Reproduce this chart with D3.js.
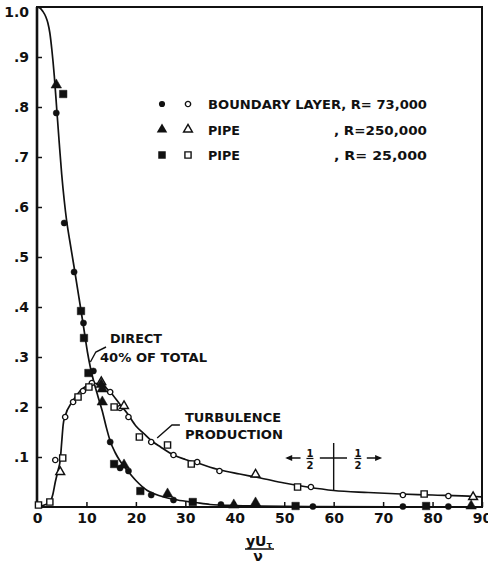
<!DOCTYPE html>
<html>
<head>
<meta charset="utf-8">
<script src="https://cdn.jsdelivr.net/npm/d3@7"></script>
<style>
  html, body { margin: 0; padding: 0; background: #fff; }
  svg { display: block; }
  text { font-family: "DejaVu Sans", sans-serif; font-weight: bold; fill: #111; }
</style>
</head>
<body>
<div id="chart"></div>
<script>
// curves: [yU/nu, fraction]
const directCurve = [[0,1.0],[0.6,0.998],[1.2,0.991],[1.8,0.98],[2.2,0.968],[2.6,0.948],[3.0,0.915],
  [3.5,0.862],[4.0,0.795],[4.5,0.728],[5.0,0.665],[5.5,0.614],[6.0,0.572],[6.6,0.534],[7.5,0.48],
  [8.5,0.418],[9.5,0.355],[10.2,0.31],[10.8,0.279],[11.5,0.25],[12.3,0.222],[13.2,0.192],[14,0.16],
  [14.8,0.132],[15.8,0.109],[16.8,0.092],[18.2,0.074],[20,0.053],[22.3,0.033],[25,0.022],[28.4,0.014],
  [32,0.009],[35,0.005],[40,0.003],[45,0.002],[55,0.001],[90,0]];
const productionCurve = [[0,0],[1.5,0.004],[2.6,0.01],[3.2,0.025],[3.7,0.05],[4.3,0.075],[4.7,0.094],
  [5.0,0.13],[5.3,0.165],[5.7,0.182],[7.1,0.21],[8.7,0.232],[10,0.242],[11.1,0.248],[13,0.245],
  [14.8,0.23],[16.8,0.205],[18.2,0.188],[20,0.162],[21.5,0.148],[23.1,0.133],[25,0.12],[27.6,0.104],
  [30,0.095],[32.4,0.088],[37,0.074],[41,0.066],[45.2,0.058],[50,0.048],[54.7,0.04],[60,0.033],
  [67,0.029],[73.6,0.026],[80,0.024],[88.4,0.021],[90,0.02]];

// measured points
const blFilled = [[3.9,0.788],[5.5,0.568],[7.5,0.47],[9.4,0.368],[11.4,0.272],[14.8,0.13],[16.8,0.078],
  [18.5,0.072],[23.1,0.024],[27.6,0.014],[37.2,0.005],[55.8,0.001],[74,0.001],[83.2,0.001]];
const blOpen = [[3.7,0.094],[5.7,0.18],[7.3,0.21],[9.3,0.232],[11.1,0.248],[14.8,0.23],[16.8,0.198],
  [18.5,0.18],[23.1,0.13],[27.6,0.104],[32.4,0.09],[36.9,0.072],[55.4,0.04],[74,0.024],[83.2,0.022]];
const pipe250Filled = [[3.9,0.844],[13.0,0.245],[13.2,0.236],[13.2,0.21],[17.6,0.084],[26.4,0.026],
  [39.8,0.004],[44.2,0.008],[87.8,0.002]];
const pipe250Open = [[4.7,0.07],[13.0,0.25],[17.6,0.202],[44.2,0.065],[88.2,0.02]];
const pipe25Filled = [[5.3,0.826],[8.9,0.392],[9.5,0.338],[10.4,0.268],[15.6,0.086],[20.9,0.032],
  [31.5,0.01],[52.3,0.002],[78.7,0.002]];
const pipe25Open = [[0.3,0.004],[2.6,0.01],[5.2,0.098],[8.3,0.22],[10.5,0.24],[15.6,0.2],[20.7,0.14],
  [26.4,0.124],[31.2,0.086],[52.7,0.04],[78.3,0.026]];

const xTicks = [0,10,20,30,40,50,60,70,80,90];
const yTicks = [0.1,0.2,0.3,0.4,0.5,0.6,0.7,0.8,0.9,1.0];
const yTickLabels = [".1",".2",".3",".4",".5",".6",".7",".8",".9","1.0"];

const legendRows = [
  {name: "BOUNDARY LAYER", r: "R= 73,000", shape: d3.symbolCircle},
  {name: "PIPE", r: ", R=250,000", shape: d3.symbolTriangle},
  {name: "PIPE", r: ", R= 25,000", shape: d3.symbolSquare}
];

const width = 488, height = 563;
const margin = {top: 7, right: 6, bottom: 56, left: 37};

const x = d3.scaleLinear().domain([0, 90]).range([margin.left, width - margin.right]);
const y = d3.scaleLinear().domain([0, 1]).range([height - margin.bottom, margin.top]);

const svg = d3.select("#chart").append("svg")
  .attr("width", width).attr("height", height);

// axes with inward ticks
svg.append("g")
  .attr("transform", `translate(0,${y(0)})`)
  .call(d3.axisBottom(x).tickValues(xTicks).tickSize(-5).tickPadding(6).tickFormat(d3.format("d")))
  .call(g => g.select(".domain").remove())
  .call(g => g.selectAll(".tick line").attr("stroke", "#111").attr("stroke-width", 1.5))
  .call(g => g.selectAll(".tick text").attr("font-size", 14).attr("font-family", "DejaVu Sans").attr("font-weight", "bold"));

svg.append("g")
  .attr("transform", `translate(${x(0)},0)`)
  .call(d3.axisLeft(y).tickValues(yTicks).tickSize(-5).tickPadding(8).tickFormat((d, i) => yTickLabels[i]))
  .call(g => g.select(".domain").remove())
  .call(g => g.selectAll(".tick line").attr("stroke", "#111").attr("stroke-width", 1.5))
  .call(g => g.selectAll(".tick text").attr("font-size", 14).attr("font-family", "DejaVu Sans").attr("font-weight", "bold"))
  .call(g => g.selectAll(".tick").filter(d => d === 1).select("text").attr("dy", "0.7em"));

// frame
svg.append("rect")
  .attr("x", x(0)).attr("y", y(1))
  .attr("width", x(90) - x(0)).attr("height", y(0) - y(1))
  .attr("fill", "none").attr("stroke", "#111").attr("stroke-width", 2);
svg.append("line")
  .attr("x1", x(0)).attr("x2", x(0)).attr("y1", y(1)).attr("y2", y(0))
  .attr("stroke", "#111").attr("stroke-width", 2.6);

// curves
const line = d3.line().x(d => x(d[0])).y(d => y(d[1])).curve(d3.curveMonotoneX);
[directCurve, productionCurve].forEach(c => {
  svg.append("path").datum(c)
    .attr("fill", "none").attr("stroke", "#111").attr("stroke-width", 1.7)
    .attr("stroke-linejoin", "round").attr("d", line);
});

// markers
const sizes = {circleF: 30, circleO: 22, triF: 48, triO: 34, sqF: 56, sqO: 38};
function drawPoints(data, shape, size, filled) {
  svg.append("g").selectAll("path").data(data).join("path")
    .attr("transform", d => `translate(${x(d[0])},${y(d[1])})`)
    .attr("d", d3.symbol().type(shape).size(size))
    .attr("fill", filled ? "#111" : "#fff")
    .attr("stroke", "#111").attr("stroke-width", filled ? 0.5 : 1.4);
}
drawPoints(blOpen, d3.symbolCircle, sizes.circleO, false);
drawPoints(pipe250Open, d3.symbolTriangle, sizes.triO, false);
drawPoints(pipe25Open, d3.symbolSquare, sizes.sqO, false);
drawPoints(blFilled, d3.symbolCircle, sizes.circleF, true);
drawPoints(pipe250Filled, d3.symbolTriangle, sizes.triF, true);
drawPoints(pipe25Filled, d3.symbolSquare, sizes.sqF, true);

// legend
legendRows.forEach((row, i) => {
  const ly = 104 + i * 25.5;
  const filledSize = row.shape === d3.symbolCircle ? sizes.circleF : row.shape === d3.symbolTriangle ? sizes.triF : sizes.sqF;
  const openSize = row.shape === d3.symbolCircle ? sizes.circleO : row.shape === d3.symbolTriangle ? sizes.triO : sizes.sqO;
  svg.append("path").attr("transform", `translate(162,${ly})`)
    .attr("d", d3.symbol().type(row.shape).size(filledSize)).attr("fill", "#111");
  svg.append("path").attr("transform", `translate(188,${ly})`)
    .attr("d", d3.symbol().type(row.shape).size(openSize))
    .attr("fill", "#fff").attr("stroke", "#111").attr("stroke-width", 1.4);
  if (i === 0) {
    svg.append("text").attr("x", 208).attr("y", ly + 5).attr("font-size", 13)
      .attr("textLength", 219).attr("lengthAdjust", "spacingAndGlyphs")
      .text("BOUNDARY  LAYER, R= 73,000");
  } else {
    svg.append("text").attr("x", 208).attr("y", ly + 5).attr("font-size", 13)
      .attr("textLength", 32).attr("lengthAdjust", "spacingAndGlyphs").text(row.name);
    svg.append("text").attr("x", 334).attr("y", ly + 5).attr("font-size", 13)
      .attr("textLength", 93).attr("lengthAdjust", "spacingAndGlyphs").text(row.r);
  }
});

// curve labels
function label(tx, ty, str, len) {
  svg.append("text").attr("x", tx).attr("y", ty).attr("font-size", 13)
    .attr("textLength", len).attr("lengthAdjust", "spacingAndGlyphs").text(str);
}
label(110, 343, "DIRECT", 52);
label(100, 362, "40% OF TOTAL", 107);
label(185, 422, "TURBULENCE", 96);
label(185, 439, "PRODUCTION", 98);

const leader = d3.line().x(d => x(d[0])).y(d => y(d[1]));
const directLeader = [[13.96,0.32],[11.9,0.31],[10.8,0.29]];
const prodLeader = [[28.9,0.164],[27.3,0.164],[24.3,0.138]];
[directLeader, prodLeader].forEach(l => {
  svg.append("path").datum(l).attr("fill", "none").attr("stroke", "#111")
    .attr("stroke-width", 1.4).attr("d", leader);
});

// half / half marker at yU/nu = 60
const halfY = 0.098;
svg.append("line")
  .attr("x1", x(60)).attr("x2", x(60)).attr("y1", y(0.128)).attr("y2", y(0.032))
  .attr("stroke", "#111").attr("stroke-width", 1.4);
const segs = [[50.6,53.3],[57.2,62.7],[66.7,69.4]];
segs.forEach(s => {
  svg.append("line").attr("x1", x(s[0])).attr("x2", x(s[1]))
    .attr("y1", y(halfY)).attr("y2", y(halfY))
    .attr("stroke", "#111").attr("stroke-width", 1.5);
});
// arrowheads
[[50.2, -1], [69.8, 1]].forEach(([ax, dir]) => {
  const px = x(ax), py = y(halfY);
  svg.append("path")
    .attr("d", `M${px},${py} L${px - dir * 7},${py - 3} L${px - dir * 7},${py + 3} Z`)
    .attr("fill", "#111");
});
[55.2, 64.9].forEach(hx => {
  const px = x(hx), py = y(halfY);
  svg.append("text").attr("x", px).attr("y", py - 1.5).attr("text-anchor", "middle")
    .attr("font-size", 10).text("1");
  svg.append("line").attr("x1", px - 3.5).attr("x2", px + 3.5).attr("y1", py + 0.5).attr("y2", py + 0.5)
    .attr("stroke", "#111").attr("stroke-width", 1.2);
  svg.append("text").attr("x", px).attr("y", py + 10.5).attr("text-anchor", "middle")
    .attr("font-size", 10).text("2");
});

// x axis title  yU_tau / nu
const title = svg.append("text").attr("x", 259).attr("y", 546).attr("text-anchor", "middle").attr("font-size", 14);
title.append("tspan").text("yU");
title.append("tspan").attr("font-size", 9).attr("dy", 2).text("τ");
svg.append("line").attr("x1", 245).attr("x2", 274).attr("y1", 549).attr("y2", 549)
  .attr("stroke", "#111").attr("stroke-width", 1.5);
svg.append("text").attr("x", 258).attr("y", 561).attr("text-anchor", "middle")
  .attr("font-size", 14).text("ν");
</script>
</body>
</html>
